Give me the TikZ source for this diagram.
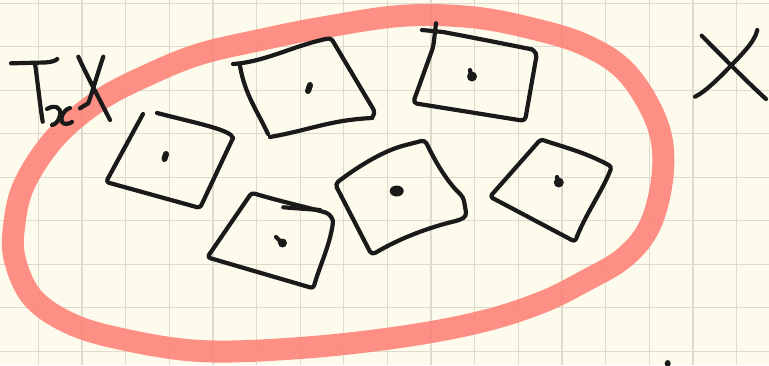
\documentclass[tikz,border=0pt]{standalone}
\usetikzlibrary{calc}
\definecolor{paper}{RGB}{253,251,236}
\definecolor{gridc}{RGB}{222,219,206}
\definecolor{marker}{RGB}{255,125,115}
\definecolor{inkc}{RGB}{26,26,26}
\begin{document}
\begin{tikzpicture}[x=1pt,y=-1pt,
  gridline/.style={gridc,line width=1.3pt},
  band/.style={marker,opacity=0.85,line width=22pt},
  ink/.style={inkc,line width=4.2pt,line cap=round,line join=round},
  blob/.style={fill=inkc}]
\fill[paper] (0,0) rectangle (769,365);
\useasboundingbox (0,0) rectangle (769,365);
% grid
\foreach \i in {0,...,17} {\draw[gridline] ({-5.3+43.64*\i},0) -- ++(0,365);}
\foreach \j in {0,...,8} {\draw[gridline] (0,{3.3+43.5*\j}) -- ++(769,0);}
% red loop
\draw[band] plot[smooth cycle,tension=0.6] coordinates {
 (55,138) (100,100) (150,74) (200,54) (260,40) (320,28) (400,16) (470,17)
 (530,28) (585,45) (627,73) (657,123) (663,170) (651,223) (625,257) (583,282)
 (540,303) (480,322) (400,337) (300,348) (200,351) (117,338) (67,322) (32,297)
 (15,260) (14,227) (24,185)};
% T_x
\draw[ink] (11,63.3) -- (45,62.5) .. controls (52,62) and (55,61) .. (57.3,59);
\draw[ink] (35,63.3) .. controls (38,85) and (40,105) .. (42.7,121.7);
\draw[ink] (47,109) .. controls (55,104) and (62,108) .. (60,115) .. controls (59,121) and (56,124) .. (52,125);
\draw[ink] (70,108) .. controls (63,110) and (60,118) .. (62,122) .. controls (64,125) and (69,124) .. (72,122);
% X left
\draw[ink] (78.3,56.7) .. controls (88,78) and (100,100) .. (110,120);
\draw[ink] (103.3,56.7) .. controls (98,72) and (93,90) .. (88.3,103.3) -- (80,108.3);
% X right
\draw[ink] (701.7,35.7) .. controls (722,56) and (745,80) .. (766,99);
\draw[ink] (757.3,30) .. controls (755,42) and (740,56) .. (730,66.7) .. controls (718,79) and (705,92) .. (695,96.7);
% shape A
\draw[ink,rounded corners=3pt] (143,114) -- (106,182) -- (200,208) -- (233,138);
\draw[ink] (233,138) .. controls (231,130) and (200,124) .. (157,113);
\draw[ink,line width=6pt] (166,154) -- (164.5,159);
% shape B
\draw[ink,rounded corners=3pt] (233,64) .. controls (265,62) and (295,45) .. (331,38) -- (375,112) -- (372,118);
\draw[ink] (372,118) .. controls (330,120) and (310,130) .. (270,137);
\draw[ink] (268,134) .. controls (258,112) and (245,95) .. (240,66);
\draw[ink,line width=6pt] (310,85) -- (308,91);
% shape C
\draw[ink] (422,30) -- (443,32) .. controls (470,37) and (500,43) .. (531.7,49.3);
\draw[ink,rounded corners=4pt] (531.7,49.3) -- (537,53) -- (525,121) -- (413,103) -- (433.3,46.7) -- (436,23.3);
\fill[blob] (472,76.5) ellipse [x radius=5pt, y radius=5pt];
\draw[ink] (470,70) -- (471,75);
% shape D
\draw[ink,rounded corners=3pt] (251.7,192.7) .. controls (275,200) and (310,208) .. (328.3,213.3) -- (333.3,220) .. controls (330,245) and (320,265) .. (313.3,288.3) -- (207.3,257.3) -- cycle;
\draw[ink] (283.3,207.3) -- (320,210);
\fill[blob] (282.5,243) ellipse [x radius=4.5pt, y radius=4.5pt];
\draw[ink] (276,237) -- (281,242);
% shape E
\draw[ink,rounded corners=4pt] (335,184) .. controls (360,165) and (385,150) .. (410,144) -- (425,140) .. controls (432,155) and (445,180) .. (463.3,197) -- (466.7,216) -- (460,220) .. controls (430,227) and (400,238) .. (371.7,255) -- cycle;
\fill[blob] (396.7,191) ellipse [x radius=7pt, y radius=5.5pt];
% shape F
\draw[ink,rounded corners=3pt] (540.7,139.3) .. controls (560,146) and (585,152) .. (611.7,166.7) .. controls (603,190) and (585,215) .. (575,241.7) -- (490,196.7) -- cycle;
\fill[blob] (558.8,182.5) ellipse [x radius=5pt, y radius=5pt];
\draw[ink] (557,177) -- (558,182);
% bottom mark
\fill[blob] (667.7,363.5) ellipse [x radius=3pt, y radius=3.5pt];
\end{tikzpicture}
\end{document}
